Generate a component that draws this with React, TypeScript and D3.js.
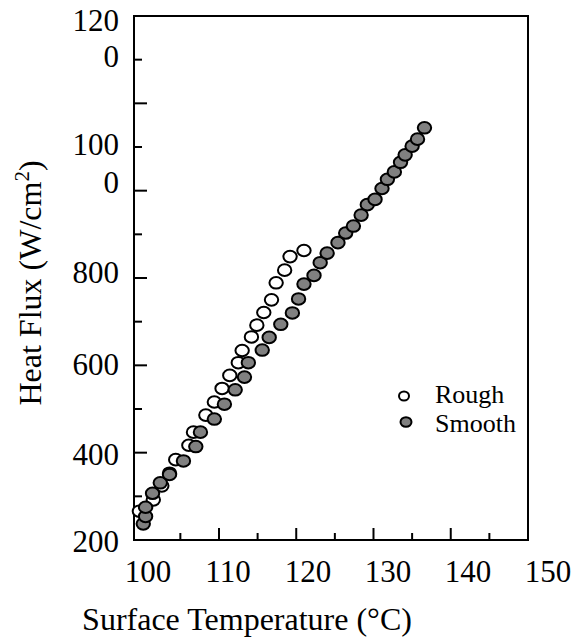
import React from "react";
import * as d3 from "d3";

// ---- data ----
const roughX = [99.7, 101.5, 102.6, 103.6, 104.4, 106.1, 106.7, 108.3, 109.4, 110.4, 111.4, 112.5, 113.0, 114.2, 114.9, 115.8, 116.8, 117.4, 118.5, 119.2, 121.0];
const roughY = [266, 292, 324, 353, 384, 417, 447, 486, 516, 547, 577, 606, 634, 665, 692, 721, 750, 789, 818, 849, 863];
const smoothX = [100.2, 100.5, 100.5, 101.4, 102.4, 103.6, 105.4, 107.0, 107.6, 109.4, 110.7, 112.1, 113.3, 113.8, 115.6, 116.5, 118.0, 119.5, 120.3, 121.0, 122.3, 123.1, 124.0, 125.4, 126.4, 127.4, 128.4, 129.2, 130.2, 131.1, 131.8, 132.7, 133.5, 134.1, 135.0, 135.7, 136.6];
const smoothY = [237, 254, 275, 307, 331, 350, 381, 414, 447, 477, 511, 544, 573, 606, 635, 664, 694, 720, 752, 786, 806, 835, 857, 881, 903, 919, 944, 968, 980, 1005, 1026, 1043, 1065, 1082, 1102, 1118, 1144];

const xTickValues = [105, 110, 115, 120, 125, 130, 135, 140, 145];
const xLabelValues = [100, 110, 120, 130, 140, 150];
const yTickValues = [300, 400, 500, 600, 700, 800, 900, 1000, 1100, 1200, 1300];
const yLabelValues = [200, 400, 600, 800, 1000, 1200];
const seriesNames = ["Rough", "Smooth"];

// ---- layout ----
const W = 574, H = 639;
const L = 134, R = 528, T = 16, B = 540;
const FONT = "'Liberation Serif', 'Times New Roman', Times, serif";
const GRAY = "#808080";
const txt = { fontFamily: FONT };

// per-label baseline offsets (relative to tick) reproducing the original's label placement
const yLabelLines: Record<number, { text: string; dy: number }[]> = {
  200: [{ text: "200", dy: 12 }],
  400: [{ text: "400", dy: 12 }],
  600: [{ text: "600", dy: 10 }],
  800: [{ text: "800", dy: 5 }],
  1000: [{ text: "100", dy: -36 }, { text: "0", dy: 2 }],
  1200: [{ text: "120", dy: -72 }, { text: "0", dy: -36 }],
};

export default function App() {
  const x = d3.scaleLinear().domain([99, 150]).range([L, R]);
  const y = d3.scaleLinear().domain([200, 1400]).range([B, T]);
  const xLab = d3.scaleLinear().domain([100, 150]).range([148, 548]);

  const rough = roughX.map((v, i) => [v, roughY[i]]);
  const smooth = smoothX.map((v, i) => [v, smoothY[i]]);

  return (
    <svg width={W} height={H} style={{ position: "absolute", left: 0, top: 0, background: "#fff" }}>
      <rect x={0} y={0} width={W} height={H} fill="#fff" />
      {/* ticks */}
      {xTickValues.map((v) => {
        const major = v % 10 === 0;
        return <line key={"xt" + v} x1={x(v)} x2={x(v)} y1={B} y2={B - (major ? 12 : 7)} stroke="#000" strokeWidth={2} />;
      })}
      {yTickValues.map((v) => {
        const major = v % 200 === 0;
        return <line key={"yt" + v} x1={L} x2={L + (major ? 13 : 8)} y1={y(v)} y2={y(v)} stroke="#000" strokeWidth={2} />;
      })}
      {/* frame */}
      <rect x={L} y={T} width={R - L} height={B - T} fill="none" stroke="#000" strokeWidth={2} />
      {/* x labels */}
      {xLabelValues.map((v) => (
        <text key={"xl" + v} x={xLab(v)} y={582} textAnchor="middle" fontSize={31} style={txt}>{v}</text>
      ))}
      {/* y labels */}
      {yLabelValues.map((v) =>
        yLabelLines[v].map((ln, i) => (
          <text key={"yl" + v + "_" + i} x={119} y={y(v) + ln.dy} textAnchor="end" fontSize={31} style={txt}>{ln.text}</text>
        ))
      )}
      {/* axis titles */}
      <text x={(82 + 412) / 2} y={630} textAnchor="middle" fontSize={32} style={txt}>Surface Temperature (°C)</text>
      <text transform={`translate(41,283) rotate(-90)`} textAnchor="middle" fontSize={32} style={txt}>
        Heat Flux (W/cm<tspan dy={-12} fontSize={21}>2</tspan><tspan dy={12}>)</tspan>
      </text>
      {/* data */}
      {rough.map(([a, b], i) => (
        <ellipse key={"r" + i} cx={x(a)} cy={y(b)} rx={6.7} ry={5.8} fill="#fff" stroke="#000" strokeWidth={2} />
      ))}
      {smooth.map(([a, b], i) => (
        <ellipse key={"s" + i} cx={x(a)} cy={y(b)} rx={6.7} ry={5.8} fill={GRAY} stroke="#000" strokeWidth={2} />
      ))}
      {/* legend */}
      <ellipse cx={404} cy={396} rx={5} ry={4.5} fill="#fff" stroke="#000" strokeWidth={2} />
      <text x={435} y={403} fontSize={26} style={txt}>{seriesNames[0]}</text>
      <ellipse cx={406} cy={422} rx={5.5} ry={4.8} fill={GRAY} stroke="#000" strokeWidth={2} />
      <text x={435} y={432} fontSize={26} style={txt}>{seriesNames[1]}</text>
    </svg>
  );
}
